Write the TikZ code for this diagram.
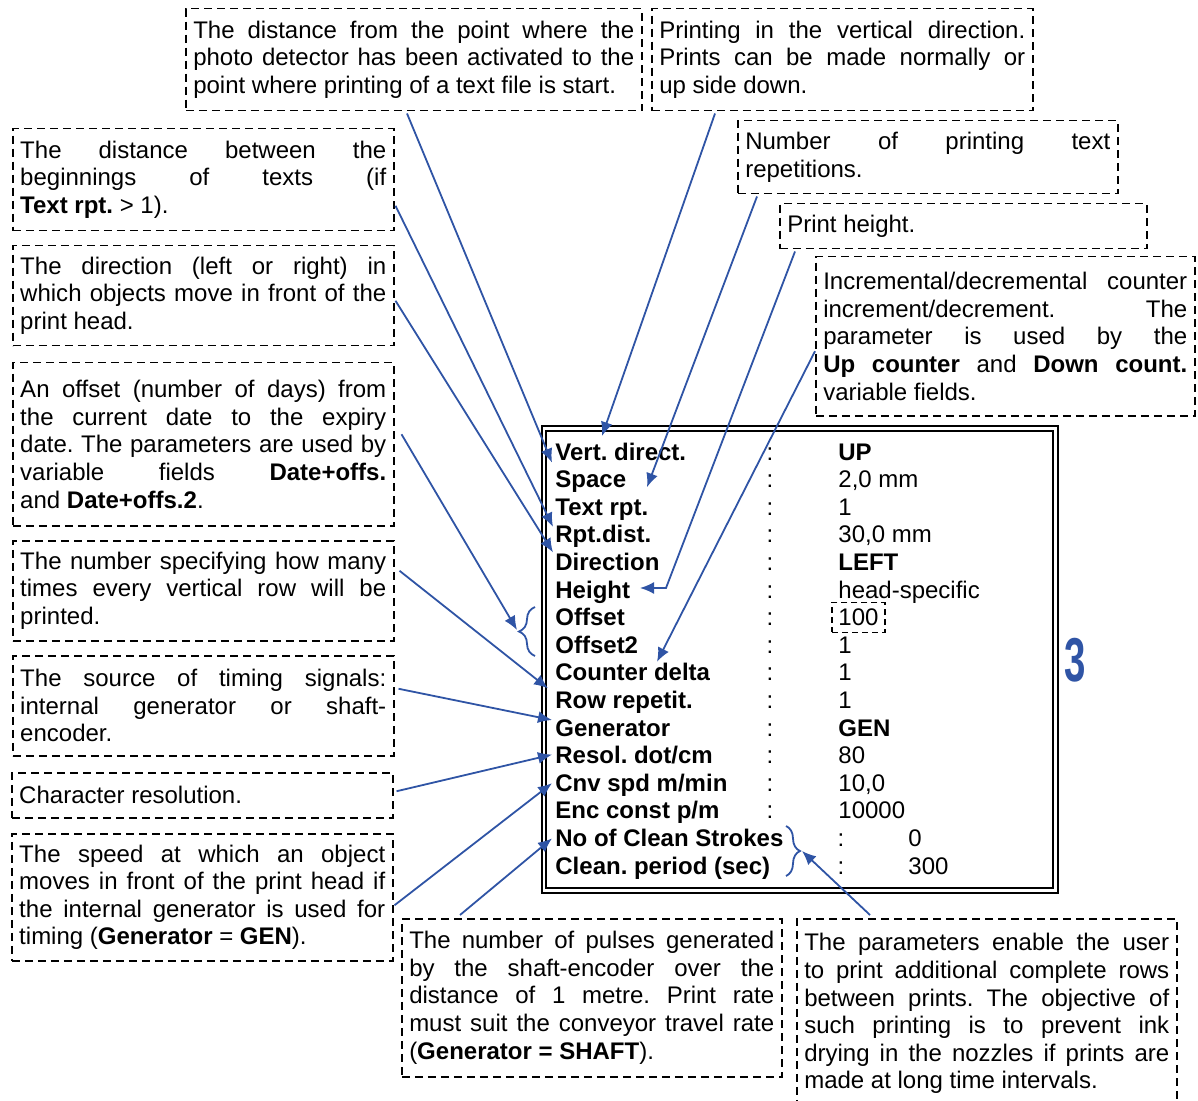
\documentclass[tikz,border=0pt]{standalone}
\usepackage{fontspec}
\setmainfont{Liberation Sans}
\usepackage{graphicx}
\usetikzlibrary{calc,arrows.meta,decorations.pathreplacing,fit}

\definecolor{lineblue}{RGB}{47,84,165}
\newcommand{\notefont}{\fontsize{12}{13.8}\selectfont\frenchspacing\tolerance=9999\hyphenpenalty=10000\exhyphenpenalty=10000}

\tikzset{
  note/.style={draw, dash pattern=on 4pt off 2.5pt, line width=0.75pt, anchor=north west,
    align=justify, inner xsep=3.75pt, inner ysep=2pt, text width=183pt, font=\notefont},
  pointer/.style={lineblue, line width=0.9pt, -{Latex[length=7pt,width=6pt]}},
  rowlab/.style={anchor=base west, inner sep=0pt, font=\notefont\bfseries},
  rowval/.style={anchor=base west, inner sep=0pt, font=\notefont},
  rowcolon/.style={anchor=base, inner sep=0pt, font=\notefont},
  bluebrace/.style={lineblue, line width=0.9pt, decorate, decoration={brace, amplitude=#1}}
}

\begin{document}
\begin{tikzpicture}[x=0.5pt,y=-0.5pt]
\useasboundingbox (0,0) rectangle (1198,1101);
\clip (0,0) rectangle (1198,1101);

\node[note, text width=220.5pt, minimum height=51pt] (A) at (185,8) {The distance from the point where the\linebreak photo detector has been activated to the\linebreak point where printing of a text file is start.};
\node[note, minimum height=51pt] (B) at (651,8) {Printing in the vertical direction.\linebreak Prints can be made normally or\linebreak up side down.};
\node[note, text width=182.5pt, minimum height=36.5pt] (C) at (737,120) {Number of printing text\linebreak repetitions.};
\node[note, text width=176pt, minimum height=22.5pt] (D) at (779,203) {Print height.};
\node[note, text width=182pt, minimum height=79.5pt] (E) at (815,256) {Incremental/decremental counter\linebreak increment/decrement. The\linebreak parameter is used by the\linebreak \textbf{Up counter} and \textbf{Down count.}\linebreak variable fields.};

\node[note, minimum height=51pt] (L1) at (12,128) {The distance between the\linebreak beginnings of texts (if\linebreak \textbf{Text rpt.} > 1).};
\node[note, minimum height=50pt] (L2) at (12,245) {The direction (left or right) in\linebreak which objects move in front of the\linebreak print head.};
\node[note, minimum height=81.5pt] (L3) at (12,362) {An offset (number of days) from\linebreak the current date to the expiry\linebreak date. The parameters are used by\linebreak variable fields \textbf{Date+offs.}\linebreak and \textbf{Date+offs.2}.};
\node[note, minimum height=50pt] (L4) at (12,540) {The number specifying how many\linebreak times every vertical row will be\linebreak printed.};
\node[note, minimum height=50pt] (L5) at (12,655) {The source of timing signals:\linebreak internal generator or shaft-\linebreak encoder.};
\node[note, minimum height=22.5pt] (L6) at (11,772) {Character resolution.};
\node[note, minimum height=63.5pt] (L7) at (11,833) {The speed at which an object\linebreak moves in front of the print head if\linebreak the internal generator is used for\linebreak timing (\textbf{Generator} = \textbf{GEN}).};

\node[note, text width=182.5pt, minimum height=79pt] (M) at (401,918) {The number of pulses generated\linebreak by the shaft-encoder over the\linebreak distance of 1 metre. Print rate\linebreak must suit the conveyor travel rate\linebreak (\textbf{Generator = SHAFT}).};
\node[note, text width=182.5pt, minimum height=95pt] (R) at (796,918) {The parameters enable the user\linebreak to print additional complete rows\linebreak between prints. The objective of\linebreak such printing is to prevent ink\linebreak drying in the nozzles if prints are\linebreak made at long time intervals.};

\draw[line width=1.3pt] (542,426) rectangle (1058,893);
\draw[line width=0.75pt] (546,431) rectangle (1053,888);

\foreach \lab/\val [count=\i] in {Vert. direct./\textbf{UP}, Space/{2,0 mm}, Text rpt./1, Rpt.dist./{30,0 mm},
  Direction/\textbf{LEFT}, Height/head-specific, Offset/100, Offset2/1, Counter delta/1, Row repetit./1,
  Generator/\textbf{GEN}, {Resol. dot/cm}/80, {Cnv spd m/min}/{10,0}, {Enc const p/m}/10000}
{
  \node[rowlab] (l\i) at (555,{460+27.6*(\i-1)}) {\lab};
  \node[rowcolon] (c\i) at (770,{460+27.6*(\i-1)}) {:};
  \node[rowval] (v\i) at (838,{460+27.6*(\i-1)}) {\val};
}
\foreach \lab/\val [count=\i from 15] in {No of Clean Strokes/0, {Clean. period (sec)}/300}
{
  \node[rowlab] (l\i) at (555,{460+27.6*(\i-1)}) {\lab};
  \node[rowcolon] (c\i) at (841,{460+27.6*(\i-1)}) {:};
  \node[rowval] (v\i) at (908,{460+27.6*(\i-1)}) {\val};
}
\node[draw, dash pattern=on 3pt off 2pt, line width=0.7pt, fit=(v7), inner xsep=3pt, inner ysep=3pt] (hundred) {};

\node[text=lineblue, font=\fontsize{31}{31}\selectfont\bfseries] (num) at (1075,660) {\scalebox{0.62}[1]{3}};

\draw[bluebrace=8pt] (535,656) -- (535,607);
\coordinate (ofsbrace) at (517,630);
\draw[bluebrace=7pt] (786,826) -- (786,876);
\coordinate (cleanbrace) at (802,851);

\draw[pointer] ($(B.south west)+(64,2)$) -- ($(l1.base west)+(47,-24)$);
\draw[pointer] ($(A.south west)+(222,2)$) -- ($(l2.base west)+(-3,-25)$);
\draw[pointer] ($(C.south west)+(20,2)$) -- ($(l3.base west)+(92,-28)$);
\draw[pointer] ($(L1.east)+(1,26)$) -- ($(l4.base west)+(-2,-16)$);
\draw[pointer] ($(L2.east)+(1,5)$) -- ($(l5.base west)+(-2,-18)$);
\draw[pointer] ($(D.south west)+(16,2)$) -- ($(l6.base west)+(111,-10)$) -- ($(l6.base west)+(85,-10)$);
\draw[pointer] ($(L3.east)+(7,-10)$) -- (ofsbrace);
\draw[pointer] ($(E.west)+(0,15)$) -- ($(l9.base west)+(102,-19)$);
\draw[pointer] ($(L4.east)+(5,-20)$) -- ($(l10.base west)+(-7,-20)$);
\draw[pointer] ($(L5.east)+(4,-17)$) -- ($(l11.base west)+(-3,-16)$);
\draw[pointer] ($(L6.east)+(3,-4)$) -- ($(l12.base west)+(-3,-9)$);
\draw[pointer] ($(L7.east)+(1,8)$) -- ($(l13.base west)+(-3,-8)$);
\draw[pointer] ($(M.north west)+(59,-3)$) -- ($(l15.base west)+(-3,-8)$);
\draw[pointer] ($(R.north west)+(74,-3)$) -- (cleanbrace);
\end{tikzpicture}
\end{document}
